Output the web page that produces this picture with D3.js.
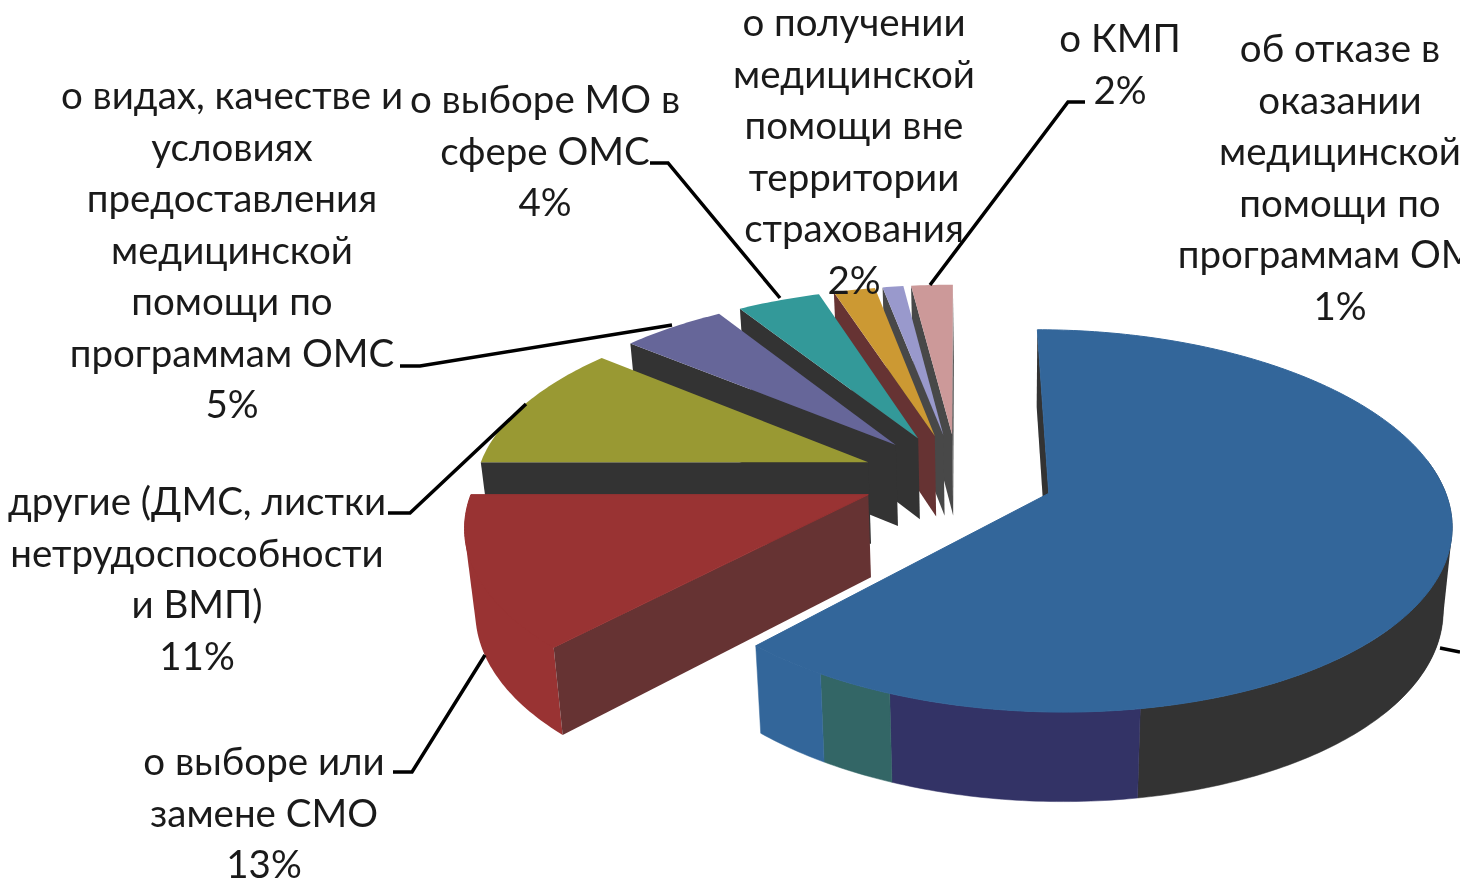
<!DOCTYPE html>
<html><head><meta charset="utf-8">
<script src="https://cdn.jsdelivr.net/npm/d3@7"></script>
<style>
html,body{margin:0;padding:0;background:#fff;overflow:hidden}
svg{display:block;filter:blur(.5px)}
text{font-family:Lato,"Noto Sans",sans-serif;font-size:38.5px;fill:#1a1a1a;text-anchor:middle}
</style></head><body>
<svg id="c" width="1460" height="885"></svg>
<script>
const categories=["обращения","о выборе или замене СМО","другие (ДМС, листки нетрудоспособности и ВМП)","о видах, качестве и условиях предоставления медицинской помощи по программам ОМС","о выборе МО в сфере ОМС","о получении медицинской помощи вне территории страхования","об отказе в оказании медицинской помощи по программам ОМС","о КМП"];
const values=[62,13,11,5,4,2,1,2];
const topColors=["#33669a","#993333","#999933","#666699","#339999","#cc9933","#9999cc","#cc9999"];
const wallColors=["#333333","#663333","#333333","#333333","#333333","#663333","#484848","#484848"];
// outer wall of the first slice changes colour at these angles (degrees)
const firstWallStops=[0,170.5,202.2,212.2,223.2];
const firstWallColors=["#333333","#333366","#336666","#33669a"];
const labelLines=[
 [],
 ["о выборе или","замене СМО","13%"],
 ["другие (ДМС, листки","нетрудоспособности","и ВМП)","11%"],
 ["о видах, качестве и","условиях","предоставления","медицинской","помощи по","программам ОМС","5%"],
 ["о выборе МО в","сфере ОМС","4%"],
 ["о получении","медицинской","помощи вне","территории","страхования","2%"],
 ["об отказе в","оказании","медицинской","помощи по","программам ОМС","1%"],
 ["о КМП","2%"]];
const labelAnchors=[null,[264,775],[197,515],[232,109],[545,113],[854,36],[1340,62],[1120,52]];
const leaders=[[[1440,648],[1460,652]],[[393,772],[412,772],[485,655]],[[388,513],[410,513],[526,404]],[[400,366],[420,366],[672,325]],[[650,163],[668,163],[780,298]],null,null,[[1085,102],[1068,102],[930,285]]];

const Cx=958,Cy=477,rx=392,ry=182.5,persp=0.1425,explodeX=0.246,explodeY=0.24,shrink=0.02,depth=82;
const svg=d3.select("#c");
const arcs=d3.pie().sort(null).value(d=>d).startAngle(0).endAngle(2*Math.PI)(values);
function project(u,v,low){
  const s=1/(1-persp*v);
  const x=Cx+rx*u*s*(low?1-shrink:1)+(low?shrink*45:0);
  const y=Cy+ry*v*s+(low?depth*(1+0.5*(s-1)):0);
  return [x,y];
}
const line=d3.line();
function sl(a){
  const m=(a.startAngle+a.endAngle)/2;
  const ox=explodeX*Math.sin(m),oy=-explodeY*Math.cos(m);
  const apex=low=>project(ox,oy,low);
  const rim=(t,low)=>project(ox+Math.sin(t),oy-Math.cos(t),low);
  const samples=(t0,t1,low)=>{
    const n=Math.max(2,Math.ceil(Math.abs(t1-t0)/0.015));
    return d3.range(n+1).map(i=>rim(t0+(t1-t0)*i/n,low));
  };
  return {apex,rim,samples};
}
const rad=d=>d*Math.PI/180;
const order=[7,6,5,4,3,2,1,0];
const g=svg.append("g");
order.forEach(i=>{
  const a=arcs[i],S=sl(a);
  const t0=a.startAngle,t1=a.endAngle;
  // silhouette of the rim, so the wall blends smoothly into the top at the widest point
  const hull=(p,q,c)=>{
    const pts=S.samples(p,q,false).concat(S.samples(p,q,true));
    g.append("path").attr("fill",c).attr("d","M"+d3.polygonHull(pts).join("L")+"Z");
  };
  if(i===0) hull(rad(80),rad(130),"#333333");
  if(i===1) hull(t0,t1,topColors[1]);
  g.append("path").attr("fill",wallColors[i])
    .attr("d",line([S.apex(false),S.rim(t0,false),S.rim(t0,true),S.apex(true)])+"Z");
  if(i===7){
    g.append("path").attr("fill",wallColors[i])
     .attr("d",line([S.apex(false),S.rim(t1,false),S.rim(t1,true),S.apex(true)])+"Z");
  }
  const wall=(p,q,c)=>{
    if(q<=p) return;
    const top=S.samples(p,q,false),bot=S.samples(q,p,true);
    g.append("path").attr("fill",c).attr("stroke",c).attr("stroke-width",.5).attr("d",line(top.concat(bot))+"Z");
  };
  if(i===0){
    firstWallColors.forEach((c,k)=>{
      wall(Math.max(rad(firstWallStops[k]),rad(80)),rad(firstWallStops[k+1]),c);
    });
  }
  const top=g.append("path").attr("fill",topColors[i])
    .attr("d",line([S.apex(false)].concat(S.samples(t0,t1,false)))+"Z");
  if(i<2) top.attr("stroke",topColors[i]).attr("stroke-width",1);
});
const ld=d3.line();
leaders.forEach(p=>{ if(p) svg.append("path").attr("d",ld(p)).attr("fill","none").attr("stroke","#000").attr("stroke-width",3.5); });
const pitch=51.5;
labelLines.forEach((ls,i)=>{
  ls.forEach((t,k)=>{
    if(!labelAnchors[i]) return;
    svg.append("text").attr("x",labelAnchors[i][0]).attr("y",labelAnchors[i][1]+k*pitch).text(t);
  });
});
</script></body></html>
